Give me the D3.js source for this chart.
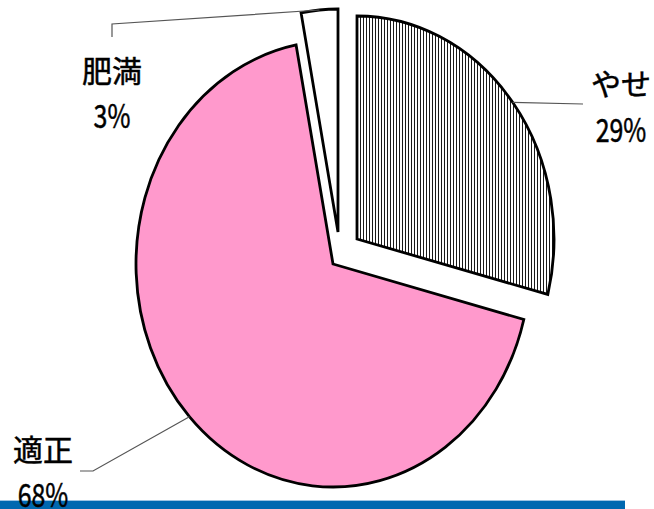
<!DOCTYPE html>
<html>
<head>
<meta charset="utf-8">
<script src="https://cdn.jsdelivr.net/npm/d3@7"></script>
<style>
  body { margin: 0; background: #fff; }
  svg { display: block; }
  text { font-family: "Noto Sans CJK JP", sans-serif; fill: #000; stroke: #000; stroke-width: 0.5; }
</style>
</head>
<body>
<div id="chart"></div>
<script>
var categories = ["やせ", "適正", "肥満"];
var values = [29, 68, 3];
var pctLabels = ["29%", "68%", "3%"];

var w = 654;
var h = 509;
var cx = 333, cy = 264;     // centre of the pie
var rx = 197, ry = 223;     // pie is drawn as an ellipse

// how far each slice is pulled out, and where its label sits
var offsets = [[24, -25], [0, 0], [5, -32]];
var labelPos = [[621, 82, 142], [43, 448, 507], [112, 69, 128]];
var leaderPts = [
    [[583, 104]],
    [[93, 471], [80, 471]],
    [[112, 24], [112, 37]]
];

var svg = d3.select("#chart")
            .append("svg")
            .attr("width", w)
            .attr("height", h);

var defs = svg.append("defs");
var hatch = defs.append("pattern")
    .attr("id", "vhatch")
    .attr("patternUnits", "userSpaceOnUse")
    .attr("width", 3)
    .attr("height", 10);
hatch.append("rect").attr("width", 3).attr("height", 10).attr("fill", "#fff");
hatch.append("line")
    .attr("x1", 0.5).attr("x2", 0.5)
    .attr("y1", 0).attr("y2", 10)
    .attr("stroke", "#1a1a1a")
    .attr("stroke-width", 1);

var fills = ["url(#vhatch)", "#ff99cc", "#ffffff"];

var pie = d3.pie().sort(null);
var arc = d3.arc()
            .innerRadius(0)
            .outerRadius(rx);

var slices = pie(values);

var arcs = svg.selectAll("g.arc")
    .data(slices)
    .enter()
    .append("g")
    .attr("class", "arc")
    .attr("transform", function(d, i) {
        return "translate(" + (cx + offsets[i][0]) + "," + (cy + offsets[i][1]) + ") scale(1," + (ry / rx) + ")";
    });

arcs.append("path")
    .attr("d", arc)
    .attr("fill", function(d, i) { return fills[i]; })
    .attr("stroke", "#000")
    .attr("stroke-width", 2.8)
    .attr("stroke-linejoin", "miter")
    .attr("vector-effect", "non-scaling-stroke");

// leader lines from the middle of each slice edge to its label
var line = d3.line();
slices.forEach(function(d, i) {
    var mid = (d.startAngle + d.endAngle) / 2;
    var ax = cx + offsets[i][0] + rx * Math.sin(mid);
    var ay = cy + offsets[i][1] - ry * Math.cos(mid);
    svg.append("path")
        .attr("d", line([[ax, ay]].concat(leaderPts[i])))
        .attr("fill", "none")
        .attr("stroke", "#555")
        .attr("stroke-width", 1.2);
});

// bottom bar
svg.append("rect")
    .attr("x", 0).attr("y", 500)
    .attr("width", 625).attr("height", 9)
    .attr("fill", "#0068b0");
svg.append("line")
    .attr("x1", 0).attr("x2", 625)
    .attr("y1", 500.5).attr("y2", 500.5)
    .attr("stroke", "#9cc3e2");

// labels
categories.forEach(function(c, i) {
    svg.append("text")
        .attr("x", labelPos[i][0])
        .attr("y", labelPos[i][1])
        .attr("text-anchor", "middle")
        .attr("dominant-baseline", "central")
        .attr("font-size", 30)
        .text(c);
    svg.append("text")
        .attr("transform", "translate(" + labelPos[i][0] + "," + labelPos[i][2] + ") scale(0.78,1)")
        .attr("text-anchor", "middle")
        .attr("font-size", 32)
        .text(pctLabels[i]);
});
</script>
</body>
</html>
